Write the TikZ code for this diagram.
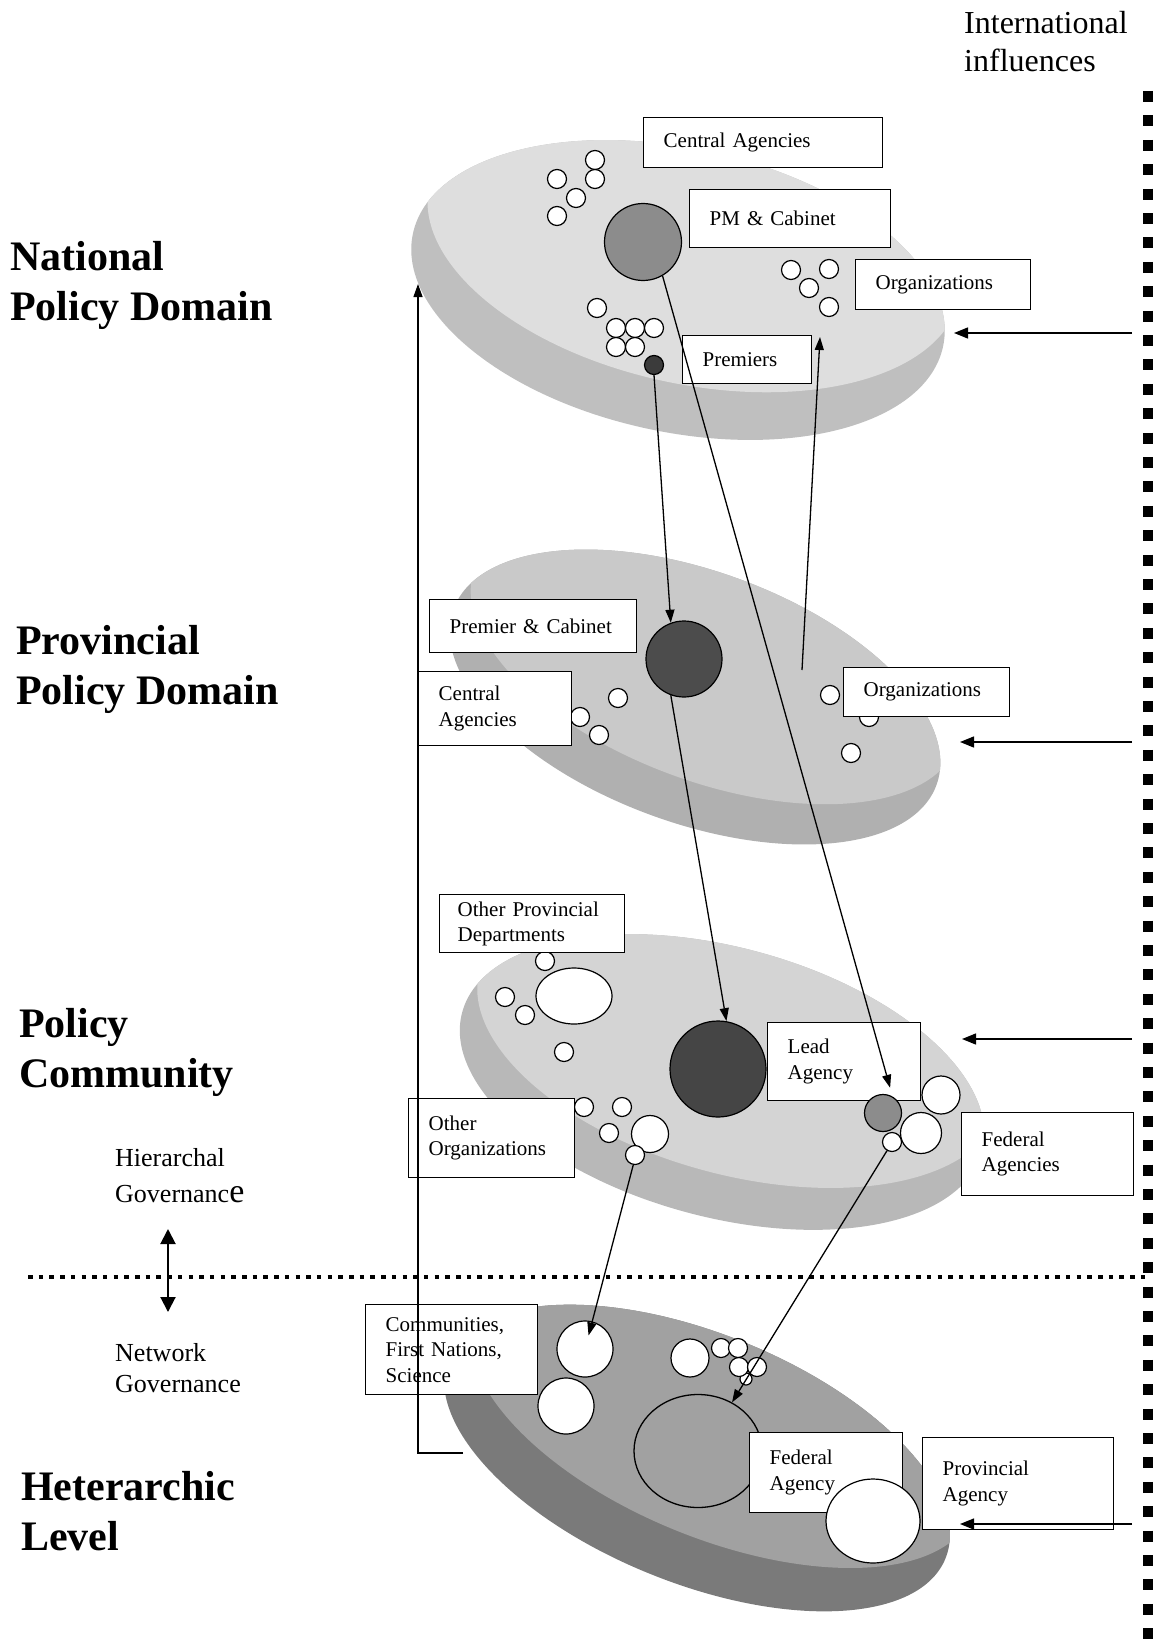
\documentclass[tikz,border=0pt]{standalone}
\usepackage{fontspec}
\setmainfont{Liberation Serif}
\usetikzlibrary{arrows.meta,positioning,calc,shapes.geometric}

\definecolor{natside}{gray}{0.75}
\definecolor{natface}{gray}{0.87}
\definecolor{provside}{gray}{0.69}
\definecolor{provface}{gray}{0.79}
\definecolor{commside}{gray}{0.72}
\definecolor{commface}{gray}{0.83}
\definecolor{hetside}{gray}{0.48}
\definecolor{hetface}{gray}{0.63}
\definecolor{midfill}{gray}{0.55}
\definecolor{darkfill}{gray}{0.30}

\newcommand{\lblfont}{\fontsize{21}{25.5}\selectfont}
\newcommand{\tierfont}{\fontsize{42}{50}\selectfont\bfseries}
\newcommand{\govfont}{\fontsize{26}{36}\selectfont}
\newcommand{\intlfont}{\fontsize{32}{38}\selectfont}

\tikzset{
  orb/.style={circle,draw,line width=1.2pt,fill=white,inner sep=0pt,minimum size=#1},
  orb/.default=19pt,
  blob/.style={ellipse,draw,line width=1.2pt,fill=white,inner sep=0pt},
  lbl/.style={draw,line width=1.4pt,fill=white,font=\lblfont,align=left,
              anchor=north west,inner xsep=20pt,inner ysep=0pt,text width=#1},
  tier/.style={font=\tierfont,align=left,anchor=west,inner sep=0pt},
  gov/.style={font=\govfont,align=left,anchor=west,inner sep=0pt},
  arr/.style={-{Triangle[length=13pt,width=9pt]},line width=1.3pt},
  inflow/.style={-{Triangle[length=14pt,width=11pt]},line width=1.4pt},
  govarrow/.style={{Triangle[length=15pt,width=15pt]}-{Triangle[length=15pt,width=15pt]},line width=2pt},
  edgeline/.style={line width=10pt,dash pattern=on 11pt off 13.4pt},
  divider/.style={line width=4.5pt,dash pattern=on 4.5pt off 6.2pt}
}

\begin{document}
\begin{tikzpicture}[x=1pt,y=-1pt]
\useasboundingbox (0,0) rectangle (1163,1640);

% the four levels as discs
\begin{scope}[rotate around={-12:(678,290)}]
  \fill[natside] (678,290) ellipse [x radius=271, y radius=142];
  \clip (678,290) ellipse [x radius=271, y radius=142];
  \fill[natface] (684,240) ellipse [x radius=271, y radius=142];
\end{scope}
\begin{scope}[rotate around={-20:(695,697)}]
  \fill[provside] (695,697) ellipse [x radius=257, y radius=126];
  \clip (695,697) ellipse [x radius=257, y radius=126];
  \fill[provface] (701,652) ellipse [x radius=257, y radius=126];
\end{scope}
\begin{scope}[rotate around={-15:(722,1082)}]
  \fill[commside] (722,1082) ellipse [x radius=269, y radius=135];
  \clip (722,1082) ellipse [x radius=269, y radius=135];
  \fill[commface] (728,1037) ellipse [x radius=269, y radius=135];
\end{scope}
\begin{scope}[rotate around={-22:(697,1458)}]
  \fill[hetside] (697,1458) ellipse [x radius=268, y radius=125];
  \clip (697,1458) ellipse [x radius=268, y radius=125];
  \fill[hetface] (705,1408) ellipse [x radius=268, y radius=125];
\end{scope}

% national policy domain
\foreach \x/\y [count=\i] in {595/160,557/179,595/179,576/198,557/216}
  \node[orb] (nc\i) at (\x,\y) {};
\node[orb=77pt,fill=midfill] (pmc) at (643,242) {};
\foreach \x/\y [count=\i] in {791/270,829/269,809/288,829/307}
  \node[orb] (no\i) at (\x,\y) {};
\foreach \x/\y [count=\i] in {597/308,616/328,635/328,654/328,616/347,635/347}
  \node[orb] (np\i) at (\x,\y) {};
\node[orb,fill=darkfill!110] (pd) at (654,365) {};

% provincial policy domain
\node[orb=76pt,fill=darkfill] (pcab) at (684,659) {};
\foreach \x/\y [count=\i] in {618/698,580/717,599/735}
  \node[orb] (pc\i) at (\x,\y) {};
\foreach \x/\y [count=\i] in {830/695,869/717,851/753}
  \node[orb] (po\i) at (\x,\y) {};

% policy community
\node[orb=96pt,fill=darkfill!90!black] (lead) at (718,1069) {};
\node[blob,minimum width=76pt,minimum height=56pt] (opdc) at (574,996) {};
\foreach \x/\y [count=\i] in {505/997,525/1015,545/961,564/1052}
  \node[orb] (oc\i) at (\x,\y) {};
\foreach \x/\y/\s [count=\i] in {584/1107/19,622/1107/19,609/1133/19,650/1134/37,635/1155/19}
  \node[orb=\s pt] (ooc\i) at (\x,\y) {};

% heterarchic level
\node[ellipse,draw,line width=1.3pt,inner sep=0pt,minimum width=128pt,minimum height=113pt] (hbig) at (698,1451) {};
\node[orb=56pt] (h1) at (585,1349) {};
\node[orb=56pt] (h2) at (566,1406) {};
\node[orb=38pt] (h3) at (690,1358) {};
\foreach \x/\y/\s [count=\i] in {746/1379/12,721/1348/19,738/1348/19,739/1367/19,757/1367/19}
  \node[orb=\s pt] (hs\i) at (\x,\y) {};

% labels
\node[lbl=199pt,minimum height=50pt] (cabox) at (643,117) {Central Agencies};
\node[lbl=161pt,minimum height=58pt] (pmbox) at (689,189) {PM \& Cabinet};
\node[lbl=135pt,minimum height=50pt] (norgbox) at (855,259) {Organizations};
\node[lbl=89pt,minimum height=48pt] (prembox) at (682,335) {Premiers};
\node[lbl=167pt,minimum height=53pt] (pcbox) at (429,599) {Premier \& Cabinet};
\node[lbl=113pt,minimum height=74pt] (pcabox) at (418,671) {Central\\Agencies};
\node[lbl=126pt,minimum height=49pt] (porgbox) at (843,667) {Organizations};
\node[lbl=149pt,inner xsep=18pt,minimum height=58pt] (opdbox) at (439,894) {Other Provincial\\Departments};
\node[lbl=113pt,minimum height=78pt] (leadbox) at (767,1022) {Lead\\Agency};
\node[lbl=126pt,minimum height=79pt] (oorgbox) at (408,1098) {Other\\Organizations};
\node[lbl=132pt,minimum height=83pt] (fedsbox) at (961,1112) {Federal\\Agencies};
\node[lbl=132pt,minimum height=90pt] (commbox) at (365,1304) {Communities,\\First Nations,\\Science};
\node[lbl=113pt,minimum height=80pt] (fabox) at (749,1432) {Federal\\Agency};
\node[lbl=151pt,minimum height=92pt] (pabox) at (922,1437) {Provincial\\Agency};

% circles lying over the labels
\node[orb=37pt,fill=midfill] (fedg) at (883,1113) {};
\foreach \x/\y/\s [count=\i] in {941/1095/38,921/1133/41,892/1142/19}
  \node[orb=\s pt] (fc\i) at (\x,\y) {};
\node[blob,minimum width=94pt,minimum height=84pt] (hbr) at (873,1521) {};

% level names
\node[tier] (natl) at (10,285) {National\\Policy Domain};
\node[tier] (prov) at (16,669) {Provincial\\Policy Domain};
\node[tier] (comm) at (19,1052) {Policy\\Community};
\node[tier] (het) at (21,1511) {Heterarchic\\Level};
\node[gov] (hgov) at (115,1176) {Hierarchal\\Governanc{\fontsize{34}{36}\selectfont e}};
\node[gov] (ngov) at (115,1368) {Network\\[-5pt]Governance};
\node[font=\intlfont,align=left,anchor=west,inner sep=0pt] (intl) at (964,42) {International\\influences};

% connectors
\coordinate (hfoot) at (463,1453);
\coordinate (nattip) at (418,284);
\draw[arr] (hfoot) -| (nattip);
\coordinate (orgfoot) at (802,670);
\coordinate (orgtip) at (820,337);
\draw[arr] (orgfoot) -- (orgtip);
\draw[arr] (pd.south) -- (pcab.110);
\draw[arr,shorten >=9pt] (pmc.-60) -- (fedg.60);
\draw[arr] (pcab.-110) -- (lead.80);
\draw[arr,shorten >=14pt] (ooc5.-100) -- (h1.center);
\draw[arr] (fc3.-120) -- (hbig.55);

% international influences
\foreach \y/\t [count=\i] in {333/954,742/960,1039/962,1524/960} {
  \coordinate (src\i) at (1132,\y);
  \coordinate (dst\i) at (\t,\y);
  \draw[inflow] (src\i) -- (dst\i);
}

% governance split
\coordinate (govtop) at (168,1229);
\coordinate (govbot) at (168,1312);
\draw[govarrow] (govtop) -- (govbot);
\draw[divider] (28,1277) -- (1148,1277);
\draw[edgeline] (1148,91) -- (1148,1640);
\end{tikzpicture}
\end{document}
